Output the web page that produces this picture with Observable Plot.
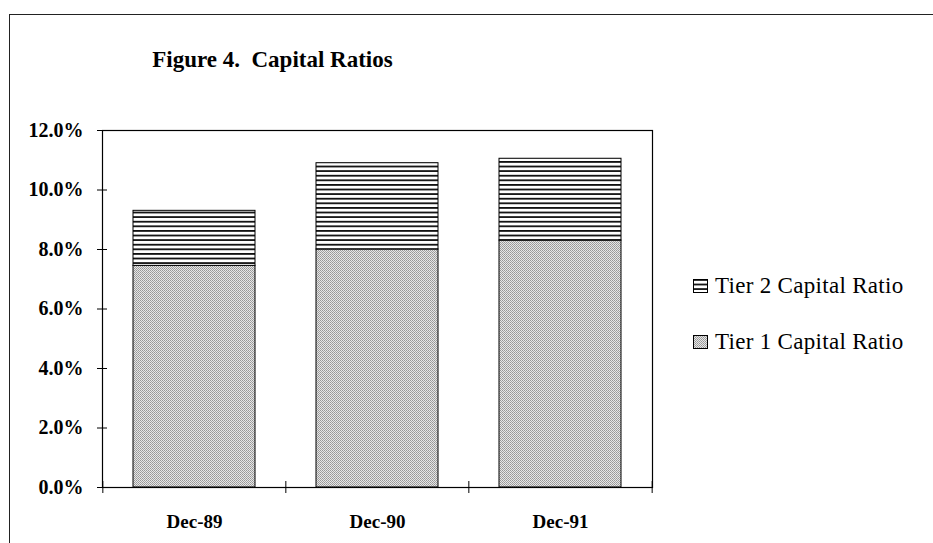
<!DOCTYPE html>
<html>
<head>
<meta charset="utf-8">
<script src="https://cdn.jsdelivr.net/npm/d3@7"></script>
<script src="https://cdn.jsdelivr.net/npm/@observablehq/plot@0.6"></script>
<style>
  body { margin: 0; background: #fff; }
  #wrap { position: relative; width: 933px; height: 543px; overflow: hidden; font-family: "Liberation Serif", "Times New Roman", serif; color: #000; }
  #border { position: absolute; left: 9px; top: 14px; width: 940px; height: 540px; border-top: 1.5px solid #222; border-left: 1.5px solid #222; }
  #title { position: absolute; left: 0; width: 545px; top: 47px; text-align: center; font-weight: bold; font-size: 23px; white-space: pre; }
  #chart { position: absolute; left: 0; top: 0; }
  .leg { position: absolute; left: 693px; height: 26px; display: flex; align-items: center; font-size: 23px; letter-spacing: 0.3px; white-space: nowrap; }
  .leg svg { margin-right: 7px; }
</style>
</head>
<body>
<div id="wrap">
  <div id="border"></div>
  <div id="chart"></div>
  <div id="title">Figure 4.  Capital Ratios</div>
  <div id="legend"></div>
</div>
<script>
// ---- data ----
const dates = ["Dec-89", "Dec-90", "Dec-91"];
const tier1 = [7.45, 8.0, 8.3];
const tier2 = [1.85, 2.9, 2.75];
const seriesNames = ["Tier 1 Capital Ratio", "Tier 2 Capital Ratio"];
const legendOrder = ["Tier 2 Capital Ratio", "Tier 1 Capital Ratio"];
const yTicks = [0, 2, 4, 6, 8, 10, 12];

const rows = dates.flatMap((d, i) => [
  {date: d, tier: seriesNames[0], value: tier1[i]},
  {date: d, tier: seriesNames[1], value: tier2[i]}
]);

const W = 933, H = 543, mL = 102, mR = 281, mT = 130, mB = 56;
const step = (W - mL - mR) / dates.length;

const chart = Plot.plot({
  width: W, height: H,
  marginLeft: mL, marginRight: mR, marginTop: mT, marginBottom: mB,
  style: {fontFamily: "'Liberation Serif', 'Times New Roman', serif", fontSize: "17px", fontWeight: "bold", color: "#000", background: "transparent", overflow: "visible"},
  x: {domain: dates, paddingInner: 0.334, paddingOuter: 0.167, label: null},
  y: {domain: [0, 12], label: null},
  color: {domain: seriesNames, range: ["url(#tier1)", "url(#tier2)"]},
  marks: [
    Plot.barY(rows, {x: "date", y: "value", fill: "tier", stroke: "#000", strokeWidth: 1}),
    Plot.frame({stroke: "#000", strokeWidth: 1.2}),
    Plot.ruleY(yTicks, {y: d => d, insetLeft: -5, insetRight: (W - mL - mR) - 5, stroke: "#000"}),
    Plot.axisY({ticks: yTicks, tickSize: 0, tickPadding: 19, tickFormat: d => d.toFixed(1) + "%", label: null, fontSize: 20, fontWeight: "bold"}),
    Plot.axisX({tickSize: 0, tickPadding: 27, label: null, fontSize: 19, fontWeight: "bold"}),
    Plot.ruleX(dates, {x: d => d, dx: -step / 2, y1: 0, y2: 0, insetTop: -6, insetBottom: -6, stroke: "#000"}),
    Plot.ruleX([dates[dates.length - 1]], {x: d => d, dx: step / 2, y1: 0, y2: 0, insetTop: -6, insetBottom: -6, stroke: "#000"})
  ]
});

// patterns
const svg = d3.select(chart);
const defs = svg.insert("defs", ":first-child");
const p1 = defs.append("pattern").attr("id", "tier1").attr("patternUnits", "userSpaceOnUse").attr("width", 2).attr("height", 2);
p1.append("rect").attr("width", 2).attr("height", 2).attr("fill", "#e6e6e6");
p1.append("rect").attr("x", 0).attr("y", 0).attr("width", 1).attr("height", 1).attr("fill", "#969696");
p1.append("rect").attr("x", 1).attr("y", 1).attr("width", 1).attr("height", 1).attr("fill", "#a4a4a4");
const p2 = defs.append("pattern").attr("id", "tier2").attr("patternUnits", "userSpaceOnUse").attr("width", 4).attr("height", 4.6);
p2.append("rect").attr("width", 4).attr("height", 4.6).attr("fill", "#fff");
p2.append("rect").attr("y", 0).attr("width", 4).attr("height", 1.8).attr("fill", "#111");

document.getElementById("chart").appendChild(chart);

// legend
const legTops = [273, 329];
const leg = d3.select("#legend");
legendOrder.forEach((name, i) => {
  const row = leg.append("div").attr("class", "leg").style("top", legTops[i] + "px");
  const s = row.append("svg").attr("width", 15).attr("height", 14);
  s.append("rect").attr("x", 0.5).attr("y", 0.5).attr("width", 14).attr("height", 13)
    .attr("fill", name === seriesNames[0] ? "url(#tier1)" : "url(#tier2)").attr("stroke", "#000");
  row.append("span").text(name);
});
</script>
</body>
</html>
